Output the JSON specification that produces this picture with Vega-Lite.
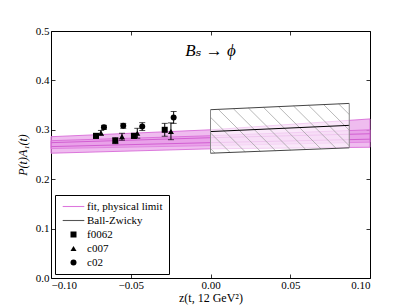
{
  "$schema": "https://vega.github.io/schema/vega-lite/v6.json",
  "width": 319,
  "height": 247,
  "autosize": {"type": "none"},
  "padding": {"left": 51, "top": 31, "right": 41, "bottom": 30},
  "background": "white",
  "config": {
    "view": {"stroke": "black", "strokeWidth": 1},
    "axis": {
      "grid": false, "domain": false, "tickColor": "black", "tickSize": -4, "tickWidth": 0.8,
      "labelFont": "Liberation Serif, Times New Roman, serif", "labelFontSize": 11, "labelColor": "black",
      "titleFont": "Liberation Serif, Times New Roman, serif", "titleFontSize": 12, "titleFontWeight": "normal", "titleColor": "black"
    },
    "legend": {"labelFont": "Liberation Serif, Times New Roman, serif", "labelFontSize": 11, "labelColor": "black"}
  },
  "datasets": {
    "bands": [
      {"z": -0.1, "lo": 0.262, "hi": 0.286, "fit": "A"},
      {"z": 0.0, "lo": 0.268, "hi": 0.300, "fit": "A"},
      {"z": 0.1, "lo": 0.275, "hi": 0.322, "fit": "A"},
      {"z": -0.1, "lo": 0.2526, "hi": 0.278, "fit": "B"},
      {"z": 0.0, "lo": 0.2615, "hi": 0.288, "fit": "B"},
      {"z": 0.1, "lo": 0.2647, "hi": 0.300, "fit": "B"}
    ],
    "centers": [
      {"z": -0.1, "v": 0.274, "fit": "A"},
      {"z": 0.0, "v": 0.284, "fit": "A"},
      {"z": 0.1, "v": 0.292, "fit": "A"},
      {"z": -0.1, "v": 0.266, "fit": "B"},
      {"z": 0.0, "v": 0.274, "fit": "B"},
      {"z": 0.1, "v": 0.281, "fit": "B"}
    ],
    "box": [
      {"z": 0.0, "bot": 0.2526, "top": 0.3407, "mid": 0.2964},
      {"z": 0.087, "bot": 0.2635, "top": 0.3534, "mid": 0.309}
    ],
    "hatch": [
      {"z1": 0.0, "v1": 0.262, "z2": 0.00281, "v2": 0.2530},
      {"z1": 0.0, "v1": 0.2937, "z2": 0.0123, "v2": 0.2541},
      {"z1": 0.0, "v1": 0.3254, "z2": 0.0218, "v2": 0.2553},
      {"z1": 0.00488, "v1": 0.3414, "z2": 0.03128, "v2": 0.2565},
      {"z1": 0.01431, "v1": 0.3428, "z2": 0.04077, "v2": 0.2577},
      {"z1": 0.02374, "v1": 0.3442, "z2": 0.05027, "v2": 0.2589},
      {"z1": 0.03317, "v1": 0.3456, "z2": 0.05975, "v2": 0.2601},
      {"z1": 0.04261, "v1": 0.3469, "z2": 0.06925, "v2": 0.2613},
      {"z1": 0.05204, "v1": 0.3483, "z2": 0.07874, "v2": 0.2625},
      {"z1": 0.06147, "v1": 0.3497, "z2": 0.087, "v2": 0.2676},
      {"z1": 0.0709, "v1": 0.3511, "z2": 0.087, "v2": 0.2993},
      {"z1": 0.08033, "v1": 0.3524, "z2": 0.087, "v2": 0.3310}
    ],
    "points": [
      {"z": -0.0718, "v": 0.2877, "lo": 0.2827, "hi": 0.2927, "series": "f0062"},
      {"z": -0.0597, "v": 0.278, "lo": 0.272, "hi": 0.284, "series": "f0062"},
      {"z": -0.048, "v": 0.2877, "lo": 0.2827, "hi": 0.2927, "series": "f0062"},
      {"z": -0.0287, "v": 0.300, "lo": 0.287, "hi": 0.313, "series": "f0062"},
      {"z": -0.0687, "v": 0.2937, "lo": 0.2887, "hi": 0.2987, "series": "c007"},
      {"z": -0.0555, "v": 0.286, "lo": 0.279, "hi": 0.293, "series": "c007"},
      {"z": -0.0459, "v": 0.293, "lo": 0.283, "hi": 0.303, "series": "c007"},
      {"z": -0.0248, "v": 0.297, "lo": 0.280, "hi": 0.314, "series": "c007"},
      {"z": -0.0668, "v": 0.305, "lo": 0.301, "hi": 0.309, "series": "c02"},
      {"z": -0.0547, "v": 0.308, "lo": 0.303, "hi": 0.313, "series": "c02"},
      {"z": -0.0428, "v": 0.3065, "lo": 0.2985, "hi": 0.3145, "series": "c02"},
      {"z": -0.0231, "v": 0.325, "lo": 0.313, "hi": 0.337, "series": "c02"}
    ],
    "heading": [
      {"label": "Bₛ → ϕ"}
    ]
  },
  "resolve": {"axis": {"x": "independent", "y": "independent"}},
  "layer": [
    {
      "data": {"name": "bands"},
      "mark": {"type": "area", "fill": "#e48fe4", "fillOpacity": 0.6, "stroke": "#d86cd8", "strokeWidth": 1, "strokeOpacity": 0.9},
      "encoding": {
        "x": {"field": "z", "type": "quantitative", "scale": {"domain": [-0.1, 0.1], "nice": false, "zero": false},
              "axis": {"values": [-0.1, -0.05, 0, 0.05, 0.1], "format": ".2f", "title": "z(t, 12 GeV²)", "labelPadding": 5, "titlePadding": 2}},
        "y": {"field": "lo", "type": "quantitative", "scale": {"domain": [0, 0.5], "nice": false, "zero": false},
              "axis": {"values": [0, 0.1, 0.2, 0.3, 0.4, 0.5], "format": ".1f", "title": "P(t)A₁(t)", "titleFontStyle": "italic", "labelPadding": 6, "titlePadding": 6}},
        "y2": {"field": "hi"},
        "detail": {"field": "fit"}
      }
    },
    {
      "data": {"name": "centers"},
      "mark": {"type": "line", "color": "#d25fd2", "strokeWidth": 1},
      "encoding": {
        "x": {"field": "z", "type": "quantitative", "axis": {"orient": "top", "labels": false, "title": null, "values": [-0.1, -0.05, 0, 0.05, 0.1]}},
        "y": {"field": "v", "type": "quantitative", "axis": {"orient": "right", "labels": false, "title": null, "values": [0, 0.1, 0.2, 0.3, 0.4, 0.5]}},
        "detail": {"field": "fit"}
      }
    },
    {
      "data": {"name": "box"},
      "mark": {"type": "area", "fill": "white", "fillOpacity": 0.65},
      "encoding": {
        "x": {"field": "z", "type": "quantitative", "axis": null},
        "y": {"field": "bot", "type": "quantitative", "axis": null},
        "y2": {"field": "top"}
      }
    },
    {
      "data": {"name": "hatch"},
      "mark": {"type": "rule", "color": "#999999", "strokeWidth": 0.7},
      "encoding": {
        "x": {"field": "z1", "type": "quantitative", "axis": null},
        "y": {"field": "v1", "type": "quantitative", "axis": null},
        "x2": {"field": "z2"},
        "y2": {"field": "v2"}
      }
    },
    {
      "data": {"name": "box"},
      "mark": {"type": "line", "color": "#444444", "strokeWidth": 1},
      "encoding": {
        "x": {"field": "z", "type": "quantitative", "axis": null},
        "y": {"field": "top", "type": "quantitative", "axis": null}
      }
    },
    {
      "data": {"name": "box"},
      "mark": {"type": "line", "color": "#444444", "strokeWidth": 1},
      "encoding": {
        "x": {"field": "z", "type": "quantitative", "axis": null},
        "y": {"field": "bot", "type": "quantitative", "axis": null}
      }
    },
    {
      "data": {"name": "box"},
      "mark": {"type": "line", "color": "black", "strokeWidth": 1},
      "encoding": {
        "x": {"field": "z", "type": "quantitative", "axis": null},
        "y": {"field": "mid", "type": "quantitative", "axis": null}
      }
    },
    {
      "data": {"name": "box"},
      "mark": {"type": "rule", "color": "#888888", "strokeWidth": 1},
      "encoding": {
        "x": {"field": "z", "type": "quantitative", "axis": null},
        "y": {"field": "bot", "type": "quantitative", "axis": null},
        "y2": {"field": "top"}
      }
    },
    {
      "data": {"name": "points"},
      "mark": {"type": "rule", "color": "black", "strokeWidth": 1},
      "encoding": {
        "x": {"field": "z", "type": "quantitative", "axis": null},
        "y": {"field": "lo", "type": "quantitative", "axis": null},
        "y2": {"field": "hi"}
      }
    },
    {
      "data": {"name": "points"},
      "mark": {"type": "tick", "color": "black", "orient": "horizontal", "size": 6, "thickness": 1},
      "encoding": {
        "x": {"field": "z", "type": "quantitative", "axis": null},
        "y": {"field": "lo", "type": "quantitative", "axis": null}
      }
    },
    {
      "data": {"name": "points"},
      "mark": {"type": "tick", "color": "black", "orient": "horizontal", "size": 6, "thickness": 1},
      "encoding": {
        "x": {"field": "z", "type": "quantitative", "axis": null},
        "y": {"field": "hi", "type": "quantitative", "axis": null}
      }
    },
    {
      "data": {"name": "points"},
      "mark": {"type": "point", "filled": true, "size": 36, "opacity": 1},
      "encoding": {
        "x": {"field": "z", "type": "quantitative", "axis": null},
        "y": {"field": "v", "type": "quantitative", "axis": null},
        "shape": {"field": "series", "type": "nominal",
          "scale": {"domain": ["fit, physical limit", "Ball-Zwicky", "f0062", "c007", "c02"],
                    "range": ["M-3.6,-0.18H3.6V0.18H-3.6Z", "M-3.6,-0.18H3.6V0.18H-3.6Z", "square", "triangle-up", "circle"]},
          "legend": {"title": null, "orient": "bottom-left", "offset": 4, "padding": 6, "symbolOffset": 7, "labelOffset": 8, "rowPadding": 2,
                     "symbolSize": 36, "strokeColor": "black", "fillColor": "white", "cornerRadius": 0, "symbolStrokeWidth": 0}},
        "color": {"field": "series", "type": "nominal",
          "scale": {"domain": ["fit, physical limit", "Ball-Zwicky", "f0062", "c007", "c02"],
                    "range": ["#dd77dd", "#555555", "black", "black", "black"]},
          "legend": {"title": null, "orient": "bottom-left"}}
      }
    },
    {
      "data": {"name": "heading"},
      "mark": {"type": "text", "font": "Liberation Serif, DejaVu Serif, serif", "fontStyle": "italic", "fontSize": 17, "color": "black", "align": "center", "baseline": "middle"},
      "encoding": {
        "x": {"datum": 0.0, "type": "quantitative", "axis": null},
        "y": {"datum": 0.46, "type": "quantitative", "axis": null},
        "text": {"field": "label", "type": "nominal"}
      }
    }
  ]
}
